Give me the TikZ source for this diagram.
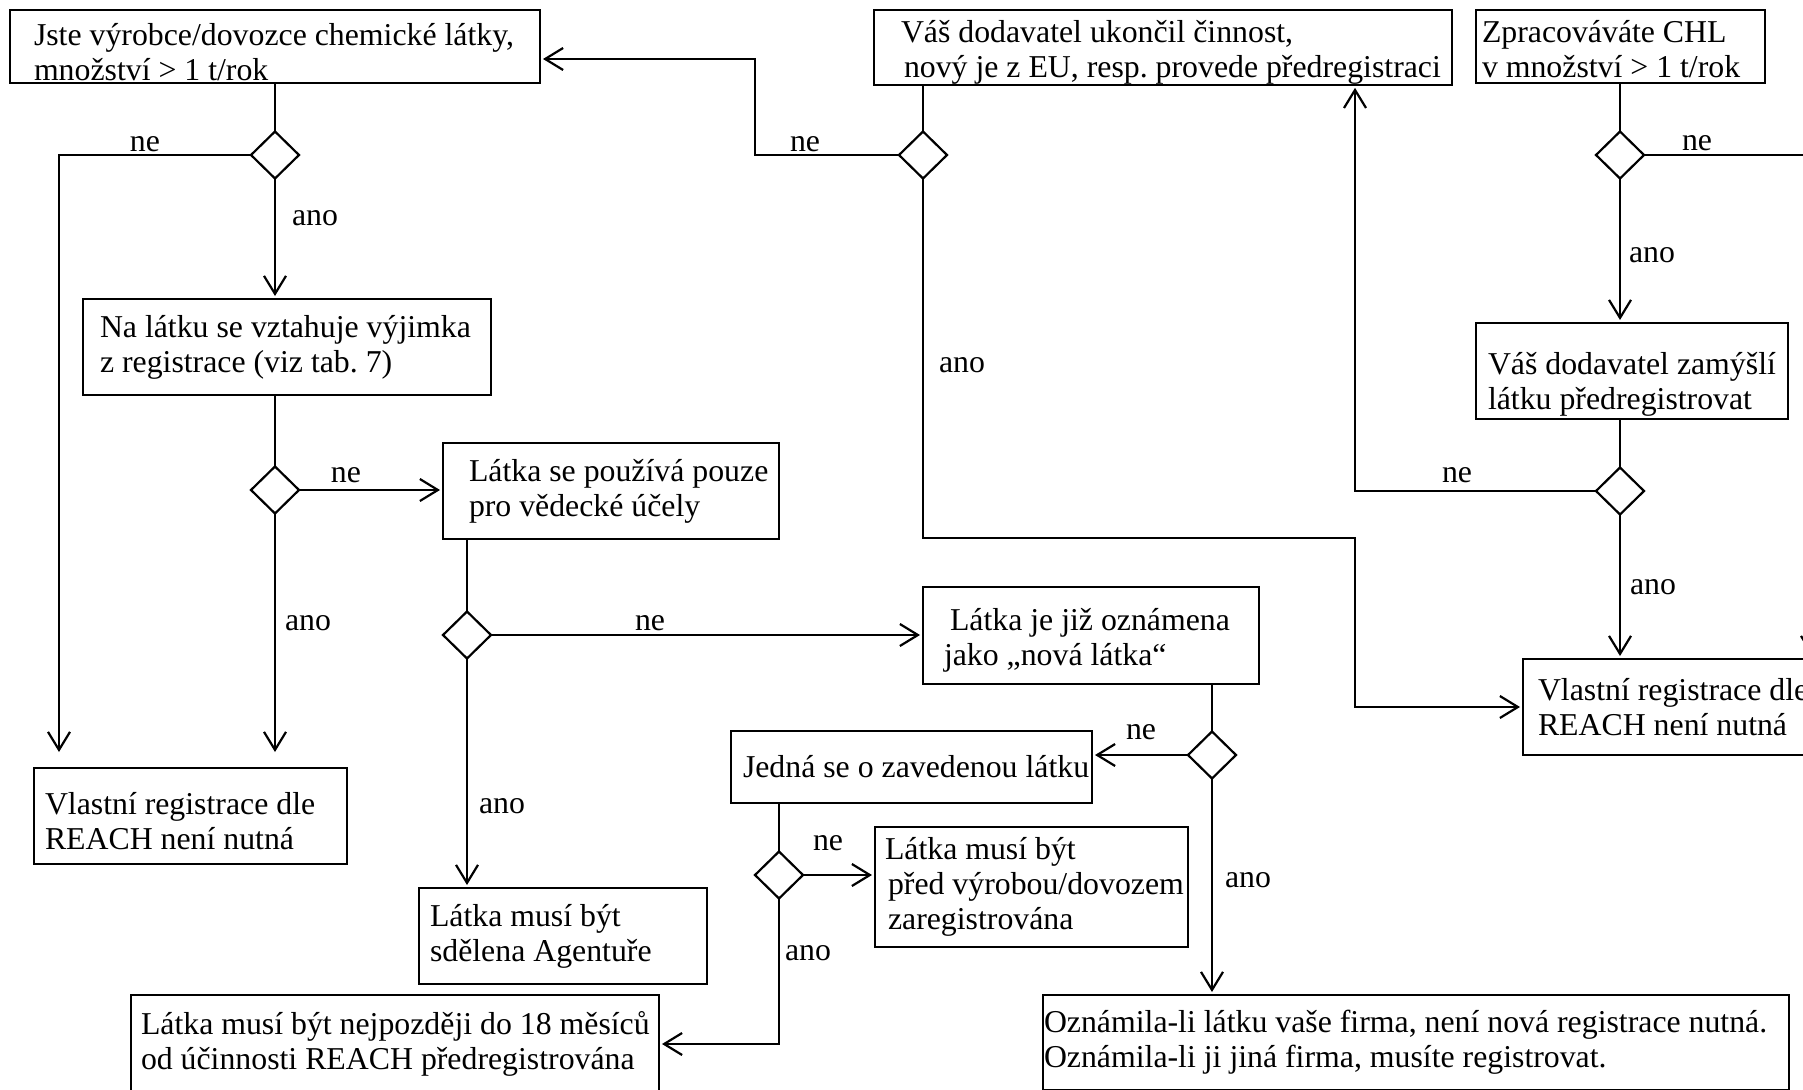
\documentclass[tikz,border=0pt]{standalone}
\usepackage{fontspec}
\setmainfont{Liberation Serif}
\usetikzlibrary{arrows.meta,%
		calc,%
		positioning,%
		shapes.geometric}

\begin{document}
\begin{tikzpicture}[x=1pt,y=-1pt,line width=2.2pt,font=\fontsize{31.8}{35}\selectfont,
  box/.style n args={3}{draw, anchor=north west, inner sep=0pt, outer sep=0pt,
    text width=#1pt, minimum height=#2pt, align=left,
    execute at begin node={\frenchspacing\spaceskip=0pt\xspaceskip=0pt%
      \leftskip=#3pt\rightskip=-20pt plus 1fil\relax}},
  rozhod/.style={draw, diamond, minimum width=48pt, minimum height=47pt, inner sep=0pt, outer sep=0pt},
  sipka/.style={-{Straight Barb[length=18pt,width=22pt]}, shorten >=3pt},
  popis/.style={inner sep=0pt}]
  \useasboundingbox (0,0) rectangle (1803,1089);
  \clip (0,0) rectangle (1803,1089);
  % boxes
  \node[box={530}{73}{24}, text height=33pt] (jste) at (10,10) {Jste výrobce/dovozce chemické látky,\\množství > 1 t/rok};
  \node[box={578}{73}{27}, text height=33pt] (dodavatel) at (874,10) {Váš dodavatel ukončil činnost,\\\hspace*{3pt}nový je z EU, resp. provede předregistraci};
  \node[box={289}{73}{6}, text height=27pt] (zpracovavate) at (1476,10) {Zpracováváte CHL\\v množství > 1 t/rok};
  \node[box={408}{96}{17}] (vyjimka) at (83,299) {Na látku se vztahuje výjimka\\z registrace (viz tab. 7)};
  \node[box={312}{96}{12}, text height=48pt] (zamysli) at (1476,323) {Váš dodavatel zamýšlí\\látku předregistrovat};
  \node[box={336}{96}{26}] (vyzkum) at (443,443) {Látka se používá pouze\\pro vědecké účely};
  \node[box={336}{97}{21}, text height=32pt] (oznamena) at (923,587) {\hspace*{6pt}Látka je již oznámena\\jako „nová látka“};
  \node[box={313}{96}{15}] (nenutna2) at (1523,659) {Vlastní registrace dle\\REACH není nutná};
  \node[box={361}{72}{12}] (zavedena) at (731,731) {Jedná se o zavedenou látku};
  \node[box={313}{96}{11}, text height=33pt] (nenutna) at (34,768) {Vlastní registrace dle\\REACH není nutná};
  \node[box={313}{120}{10}] (pred) at (875,827) {Látka musí být\\\hspace*{3pt}před výrobou/dovozem\\\hspace*{3pt}zaregistrována};
  \node[box={288}{96}{11}] (agentura) at (419,888) {Látka musí být\\sdělena Agentuře};
  \node[box={528}{98}{10}] (nejpozdeji) at (131,995) {Látka musí být nejpozději do 18 měsíců\\od účinnosti REACH předregistrována};
  \node[box={746}{95}{1}] (oznamila) at (1043,995) {Oznámila-li látku vaše firma, není nová registrace nutná.\\Oznámila-li ji jiná firma, musíte registrovat.};
  % diamonds
  \node[rozhod] (dJste) at (275,155) {};
  \node[rozhod] (dVyj) at (275,490) {};
  \node[rozhod] (dVyzk) at (467,635) {};
  \node[rozhod] (dOzn) at (1212,755) {};
  \node[rozhod] (dZav) at (779,875) {};
  \node[rozhod] (dDod) at (923,155) {};
  \node[rozhod] (dZprac) at (1620,155) {};
  \node[rozhod] (dPredreg) at (1620,491) {};
  \coordinate (ohyb) at (755,59);
  \coordinate (zlom) at (1355,538);
  % connectors
  \draw (dJste |- jste.south) -- (dJste.north);
  \draw[sipka, shorten >=16pt] (dJste.west) -| ([xshift=25pt]nenutna.north west);
  \draw[sipka] (dJste.south) -- (dJste |- vyjimka.north);
  \draw (dVyj |- vyjimka.south) -- (dVyj.north);
  \draw[sipka] (dVyj.east) -- (dVyj -| vyzkum.west);
  \draw[sipka, shorten >=16pt] (dVyj.south) -- (dVyj |- nenutna.north);
  \draw (dVyzk |- vyzkum.south) -- (dVyzk.north);
  \draw[sipka] (dVyzk.east) -- (dVyzk -| oznamena.west);
  \draw[sipka] (dVyzk.south) -- (dVyzk |- agentura.north);
  \draw (dOzn |- oznamena.south) -- (dOzn.north);
  \draw[sipka] (dOzn.west) -- (dOzn -| zavedena.east);
  \draw[sipka] (dOzn.south) -- (dOzn |- oznamila.north);
  \draw (dZav |- zavedena.south) -- (dZav.north);
  \draw[sipka] (dZav.east) -- (dZav -| pred.west);
  \draw[sipka] (dZav.south) |- (nejpozdeji.east);
  \draw (dDod |- dodavatel.south) -- (dDod.north);
  \draw[sipka] (dDod.west) -| (ohyb) -- (ohyb -| jste.east);
  \draw[sipka] (dDod.south) |- (zlom) |- (nenutna2.west);
  \draw (dZprac |- zpracovavate.south) -- (dZprac.north);
  \draw[sipka] (dZprac.east) -| ([xshift=-24pt]nenutna2.north east);
  \draw[sipka] (dZprac.south) -- (dZprac |- zamysli.north);
  \draw (dPredreg |- zamysli.south) -- (dPredreg.north);
  \draw[sipka] (dPredreg.west) -| (zlom |- dodavatel.south);
  \draw[sipka] (dPredreg.south) -- (dPredreg |- nenutna2.north);
  % ne / ano
  \node[popis] (ne1) at (145,144) {ne};
  \node[popis] (ano1) at (315,218) {ano};
  \node[popis] (ne2) at (346,475) {ne};
  \node[popis] (ano2) at (308,623) {ano};
  \node[popis] (ne3) at (650,623) {ne};
  \node[popis] (ano3) at (502,806) {ano};
  \node[popis] (ne4) at (1141,732) {ne};
  \node[popis] (ano4) at (1248,880) {ano};
  \node[popis] (ne5) at (828,843) {ne};
  \node[popis] (ano5) at (808,953) {ano};
  \node[popis] (ne6) at (805,144) {ne};
  \node[popis] (ano6) at (962,365) {ano};
  \node[popis] (ne7) at (1697,143) {ne};
  \node[popis] (ano7) at (1652,255) {ano};
  \node[popis] (ne8) at (1457,475) {ne};
  \node[popis] (ano8) at (1653,587) {ano};
\end{tikzpicture}
\end{document}
